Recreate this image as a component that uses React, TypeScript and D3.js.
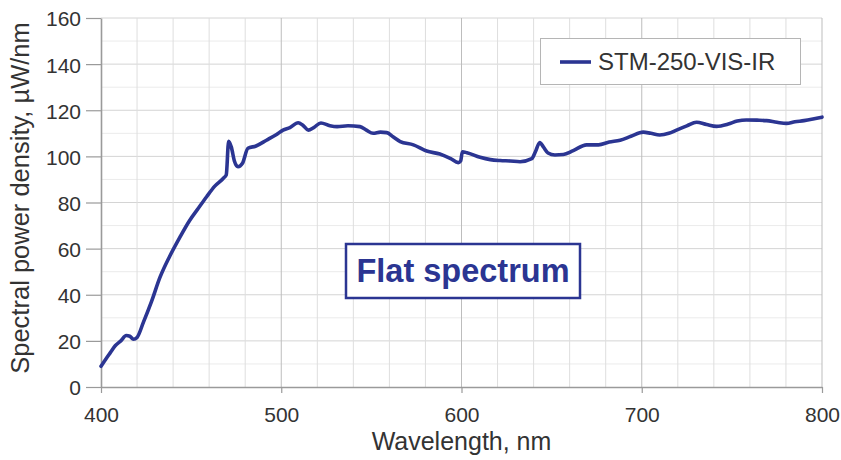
import { useEffect, useRef } from 'react';
import * as d3 from 'd3';

// wavelength (nm) and spectral power density (µW/nm)
const wavelengths = [
  400, 403, 405, 408, 411, 414, 416, 418, 420, 423.5, 428, 432.7, 438, 443.8, 449, 454, 458.6, 463,
  467.9, 469.5, 470.8, 472.3, 474, 476, 478.5, 481.5, 486, 491.8, 497.4, 501, 504.8, 509.4, 512,
  515, 518, 522, 527, 531, 537, 543.7, 547, 551, 555, 558.5, 562, 566, 573.3, 580.7, 588, 594,
  598.2, 599.5, 600.5, 603, 610.3, 616, 621.4, 627, 632.5, 639, 641, 643.4, 645.5, 648, 651.8,
  656.5, 662, 669.4, 676, 682, 688, 694, 700.8, 705, 710, 715, 719.3, 725, 730.4, 736, 741.5, 748,
  753, 758, 764, 769.2, 775, 780.3, 785, 790, 795, 800,
];
const density = [
  9, 12.5, 14.7, 18, 20, 22.3, 22, 20.7, 21.5, 28, 37, 47.5, 56.5, 65, 72, 77.5, 82.5, 87,
  90.5, 92, 106.5, 104, 98, 95.5, 97, 103.5, 104.5, 107, 109.5, 111.4, 112.5, 114.6, 113.5,
  111.4, 112.5, 114.5, 113.3, 112.9, 113.3, 112.9, 111.5, 110, 110.5, 110.3, 108.5, 106.4, 105, 102.3, 101, 99,
  97.3, 98, 102, 101.6, 99.6, 98.6, 98.2, 98, 97.7, 99, 102, 106, 104, 101.5, 100.6,
  100.8, 102.5, 105, 105, 106.2, 107, 108.7, 110.5, 110, 109.3, 110, 111.4, 113.2, 114.8, 113.8, 113, 114,
  115.3, 115.8, 115.7, 115.5, 114.8, 114.3, 115, 115.5, 116.2, 117,
];
const xTicks = [400, 500, 600, 700, 800];
const yTicks = [0, 20, 40, 60, 80, 100, 120, 140, 160];
const seriesName = 'STM-250-VIS-IR';
const noteText = 'Flat spectrum';
const xTitle = 'Wavelength, nm';
const yTitle = 'Spectral power density, µW/nm';

const W = 841;
const H = 460;
const FONT = '"Liberation Sans", Arial, Helvetica, sans-serif';
const NAVY = '#2b3592';

export default function App() {
  const ref = useRef<SVGSVGElement | null>(null);

  useEffect(() => {
    if (!ref.current) return;
    const svg = d3.select(ref.current);
    svg.selectAll('*').remove();

    const left = 101;
    const right = 822;
    const top = 18;
    const bottom = 387;

    const x = d3.scaleLinear().domain([400, 800]).range([left, right]);
    const y = d3.scaleLinear().domain([0, 160]).range([bottom, top]);

    svg.append('rect').attr('width', W).attr('height', H).attr('fill', '#fff');

    // grid
    const grid = svg.append('g');
    grid
      .selectAll('line.h')
      .data(d3.range(10, 161, 10))
      .join('line')
      .attr('x1', left)
      .attr('x2', right)
      .attr('y1', (d) => y(d))
      .attr('y2', (d) => y(d))
      .attr('stroke', (d) => (d % 20 === 0 ? '#d4d4d4' : '#ebebeb'))
      .attr('stroke-width', 1);
    grid
      .selectAll('line.v')
      .data(d3.range(420, 801, 20))
      .join('line')
      .attr('x1', (d) => x(d))
      .attr('x2', (d) => x(d))
      .attr('y1', top)
      .attr('y2', bottom)
      .attr('stroke', (d) => (d % 100 === 0 ? '#bdbdbd' : '#dedede'))
      .attr('stroke-width', 1);

    // axes
    const yAxis = svg
      .append('g')
      .attr('transform', `translate(${left},0)`)
      .call(d3.axisLeft(y).tickValues(yTicks).tickSize(15).tickSizeOuter(0).tickPadding(5));
    const xAxis = svg
      .append('g')
      .attr('transform', `translate(0,${bottom})`)
      .call(d3.axisBottom(x).tickValues(xTicks).tickSize(6).tickSizeOuter(0).tickPadding(14));
    [yAxis, xAxis].forEach((g) => {
      g.select('.domain').attr('stroke', '#9a9a9a').attr('stroke-width', 1.6);
      g.selectAll('.tick line').attr('stroke', '#9a9a9a').attr('stroke-width', 1.2);
      g.selectAll('.tick text')
        .attr('fill', '#333')
        .style('font-family', FONT)
        .style('font-size', '21px');
    });
    yAxis.selectAll('.tick text').attr('dy', '0.38em');

    // series
    const pts = wavelengths.map((w, i) => [w, density[i]] as [number, number]);
    const line = d3
      .line<[number, number]>()
      .x((d) => x(d[0]))
      .y((d) => y(d[1]))
      .curve(d3.curveMonotoneX);
    svg
      .append('path')
      .datum(pts)
      .attr('d', line)
      .attr('fill', 'none')
      .attr('stroke', NAVY)
      .attr('stroke-width', 3.6)
      .attr('stroke-linejoin', 'round')
      .attr('stroke-linecap', 'round');

    // titles
    svg
      .append('text')
      .attr('x', (left + right) / 2)
      .attr('y', 450)
      .attr('text-anchor', 'middle')
      .attr('fill', '#333')
      .style('font-family', FONT)
      .style('font-size', '25px')
      .text(xTitle);
    svg
      .append('text')
      .attr('transform', `translate(29,198) rotate(-90)`)
      .attr('text-anchor', 'middle')
      .attr('fill', '#333')
      .style('font-family', FONT)
      .style('font-size', '25.5px')
      .text(yTitle);

    // legend
    const lg = svg.append('g');
    lg.append('rect')
      .attr('x', 540.5)
      .attr('y', 38.5)
      .attr('width', 260)
      .attr('height', 46)
      .attr('fill', '#fff')
      .attr('stroke', '#b5b5b5')
      .attr('stroke-width', 1);
    lg.append('line')
      .attr('x1', 560)
      .attr('x2', 591)
      .attr('y1', 62)
      .attr('y2', 62)
      .attr('stroke', NAVY)
      .attr('stroke-width', 3.6);
    lg.append('text')
      .attr('x', 598)
      .attr('y', 70)
      .attr('fill', '#333')
      .style('font-family', FONT)
      .style('font-size', '24px')
      .text(seriesName);

    // note box
    const nb = svg.append('g');
    nb.append('rect')
      .attr('x', 346)
      .attr('y', 244)
      .attr('width', 234)
      .attr('height', 54)
      .attr('fill', '#fff')
      .attr('stroke', NAVY)
      .attr('stroke-width', 2.5);
    nb.append('text')
      .attr('x', 463)
      .attr('y', 282)
      .attr('text-anchor', 'middle')
      .attr('fill', NAVY)
      .style('font-family', FONT)
      .style('font-weight', 'bold')
      .style('font-size', '32.5px')
      .text(noteText);
  }, []);

  return (
    <svg
      ref={ref}
      width={W}
      height={H}
      style={{ position: 'absolute', left: 0, top: 0, display: 'block' }}
    />
  );
}
